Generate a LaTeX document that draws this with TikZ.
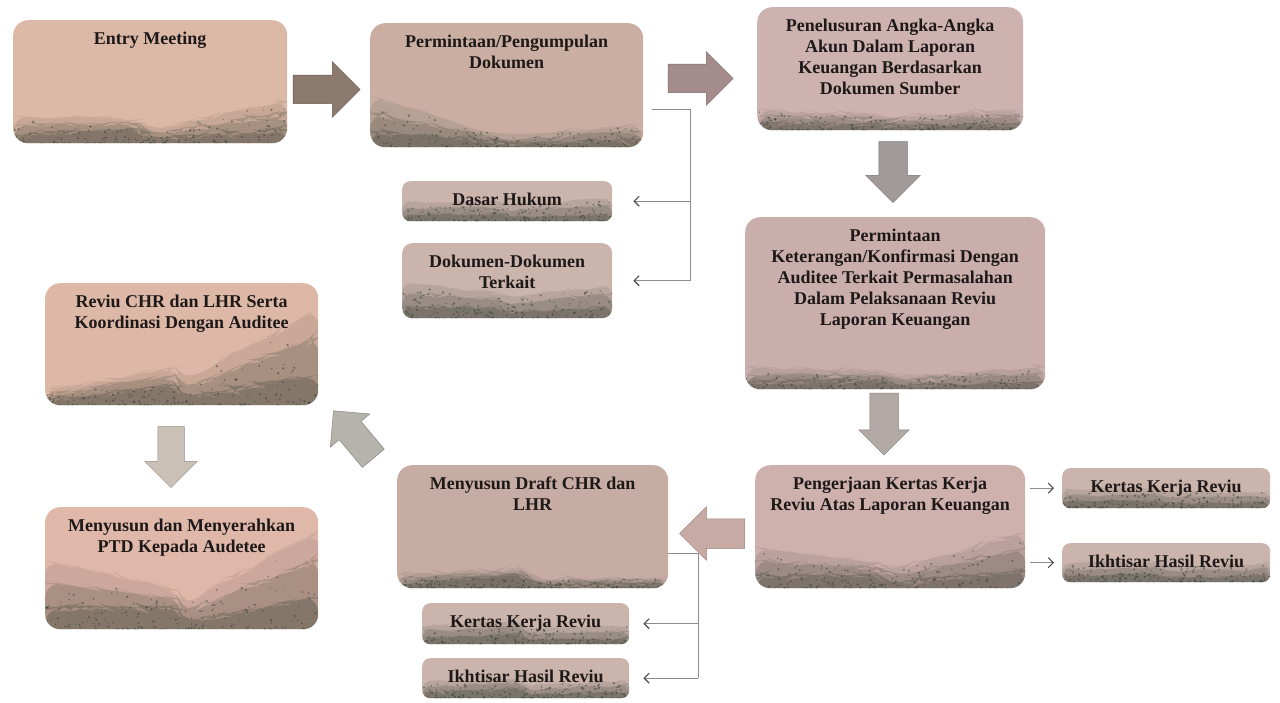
\documentclass[tikz,border=0pt]{standalone}
\usepackage{fontspec}
\setmainfont{Liberation Serif}
\usetikzlibrary{shapes.arrows,arrows.meta,decorations.pathmorphing,calc}
\definecolor{txt}{RGB}{30,25,25}
\definecolor{bandc}{RGB}{52,60,50}
\definecolor{cEntry}{RGB}{220,184,166}
\definecolor{cPerm}{RGB}{202,174,162}
\definecolor{cPen}{RGB}{206,178,176}
\definecolor{cKet}{RGB}{202,174,172}
\definecolor{cPeng}{RGB}{206,176,173}
\definecolor{cDraft}{RGB}{198,172,162}
\definecolor{cRev}{RGB}{222,184,167}
\definecolor{cPtd}{RGB}{224,184,170}
\definecolor{cSmall}{RGB}{202,180,172}
\definecolor{aA}{RGB}{140,122,110}
\definecolor{aB}{RGB}{165,140,140}
\definecolor{aC}{RGB}{160,155,152}
\definecolor{aD}{RGB}{178,168,165}
\definecolor{aE}{RGB}{200,170,165}
\definecolor{aF}{RGB}{182,178,172}
\definecolor{aG}{RGB}{202,192,182}
\pgfmathsetseed{11}
% #1 name, #2 x1, #3 y1, #4 x2, #5 y2, #6 fill, #7 band heights, #8 corner radius, #9 text
\newcommand\pbox[9]{%
  \node[procbox, rounded corners=#8, fill=#6, band=#7] (#1) at (#2,#3)
    {\parbox[t][\dimexpr#5pt-#3pt\relax][t]{\dimexpr#4pt-#2pt\relax}{\centering\rule{0pt}{24pt}#9}};}
\begin{document}
\begin{tikzpicture}[x=1pt,y=-1pt,
  procbox/.style={anchor=north west, inner sep=0pt, text=txt,
    font=\fontsize{18}{21}\selectfont\bfseries},
  band/.style n args={3}{path picture={
    \fill[bandc, fill opacity=.12]
      ([yshift=-2pt]path picture bounding box.south west)
      -- ([yshift={1.5*#1}]path picture bounding box.south west)
      decorate[decoration={random steps,segment length=9pt,amplitude=2.5pt}]
        {-- ([yshift={1.5*#2}]path picture bounding box.south)
         -- ([yshift={1.4*#3}]path picture bounding box.south east)}
      -- ([yshift=-2pt]path picture bounding box.south east) -- cycle;
    \fill[bandc, fill opacity=.22]
      ([yshift=-2pt]path picture bounding box.south west)
      -- ([yshift=#1]path picture bounding box.south west)
      decorate[decoration={random steps,segment length=7pt,amplitude=2pt}]
        {-- ([yshift=#2]path picture bounding box.south)
         -- ([yshift=#3]path picture bounding box.south east)}
      -- ([yshift=-2pt]path picture bounding box.south east) -- cycle;
    \fill[bandc, fill opacity=.3]
      ([yshift=-2pt]path picture bounding box.south west)
      -- ([yshift={.45*#1}]path picture bounding box.south west)
      decorate[decoration={random steps,segment length=5pt,amplitude=1.5pt}]
        {-- ([yshift={.4*#2}]path picture bounding box.south)
         -- ([yshift={.45*#3}]path picture bounding box.south east)}
      -- ([yshift=-2pt]path picture bounding box.south east) -- cycle;
    \path (path picture bounding box.south west) coordinate (ppsw)
          (path picture bounding box.south east) coordinate (ppse);
    \foreach \k in {1,...,170}{
      \pgfmathsetmacro\rx{rnd}
      \pgfmathsetmacro\ry{rnd^2}
      \pgfmathsetmacro\hh{\rx<0.5 ? (#1+(#2-#1)*2*\rx) : (#2+(#3-#2)*(2*\rx-1))}
      \pgfmathsetmacro\rr{0.5+0.8*rnd}
      \fill[bandc, fill opacity=.55] ($(ppsw)!\rx!(ppse)$) ++(0pt,{\ry*\hh*1.35pt}) circle (\rr pt);
    }
  }},
  barrow/.style={single arrow, inner xsep=0pt, fill=#1, draw=#1!75!black,
    line width=.5pt, single arrow tip angle=90},
  conn/.style={draw=black!45, line width=.7pt},
  tipc/.style={-{Straight Barb[length=5pt,width=10pt,line width=1.1pt,color=black!70]}},
]
\fill[white] (0,0) rectangle (1280,703);
\useasboundingbox (0,0) rectangle (1280,703);

% process boxes
\pbox{entry}{13}{20}{287}{143}{cEntry}{{18pt}{9pt}{30pt}}{15pt}{Entry Meeting}
\pbox{perm}{370}{23}{643}{147}{cPerm}{{34pt}{7pt}{16pt}}{15pt}{Permintaan/Pengumpulan\\Dokumen}
\pbox{pen}{757}{7}{1023}{130}{cPen}{{14pt}{9pt}{14pt}}{15pt}{Penelusuran Angka-Angka\\Akun Dalam Laporan\\Keuangan Berdasarkan\\Dokumen Sumber}
\pbox{ket}{745}{217}{1045}{389}{cKet}{{14pt}{8pt}{16pt}}{15pt}{Permintaan\\Keterangan/Konfirmasi Dengan\\Auditee Terkait Permasalahan\\Dalam Pelaksanaan Reviu\\Laporan Keuangan}
\pbox{peng}{755}{465}{1025}{588}{cPeng}{{28pt}{11pt}{40pt}}{15pt}{Pengerjaan Kertas Kerja\\Reviu Atas Laporan Keuangan}
\pbox{draft}{397}{465}{668}{588}{cDraft}{{9pt}{6pt}{8pt}}{15pt}{Menyusun Draft CHR dan\\LHR}
\pbox{rev}{45}{283}{318}{405}{cRev}{{10pt}{16pt}{68pt}}{15pt}{Reviu CHR dan LHR Serta\\Koordinasi Dengan Auditee}
\pbox{ptd}{45}{507}{318}{629}{cPtd}{{46pt}{16pt}{70pt}}{15pt}{Menyusun dan Menyerahkan\\PTD Kepada Audetee}

% small boxes
\pbox{dasar}{402}{181}{612}{221}{cSmall}{{13pt}{11pt}{15pt}}{8pt}{Dasar Hukum}
\pbox{dok}{402}{243}{612}{318}{cSmall}{{24pt}{14pt}{24pt}}{10pt}{Dokumen-Dokumen\\Terkait}
\pbox{kkr1}{1062}{468}{1270}{508}{cSmall}{{13pt}{11pt}{12pt}}{8pt}{Kertas Kerja Reviu}
\pbox{ikh1}{1062}{543}{1270}{582}{cSmall}{{13pt}{11pt}{13pt}}{8pt}{Ikhtisar Hasil Reviu}
\pbox{kkr2}{422}{603}{629}{644}{cSmall}{{13pt}{11pt}{13pt}}{8pt}{Kertas Kerja Reviu}
\pbox{ikh2}{422}{658}{629}{698}{cSmall}{{11pt}{9pt}{13pt}}{8pt}{Ikhtisar Hasil Reviu}

% block arrows
\node[barrow=aA, minimum height=67pt, inner ysep=14pt, single arrow head extend=13.5pt] (a1) at (319.5,89.5) {};
\node[barrow=aB, minimum height=65pt, inner ysep=14pt, single arrow head extend=12.5pt] (a2) at (693.5,78.5) {};
\node[barrow=aC, rotate=-90, minimum height=61pt, inner ysep=14pt, single arrow head extend=13pt] (a3) at (893,165) {};
\node[barrow=aD, rotate=-90, minimum height=62pt, inner ysep=14pt, single arrow head extend=11pt] (a4) at (884,417) {};
\node[barrow=aE, rotate=180, minimum height=65pt, inner ysep=14.5pt, single arrow head extend=12pt] (a5) at (719.5,533.5) {};
\node[barrow=aF, rotate=130, minimum height=62pt, inner ysep=14pt, single arrow head extend=11.5pt] (a6) at (358,440) {};
\node[barrow=aG, rotate=-90, minimum height=61pt, inner ysep=13pt, single arrow head extend=13pt] (a7) at (171,450.5) {};

% thin connectors
\coordinate (pj) at (690,109);
\draw[conn, shorten <=9pt] (perm.east |- pj) -- (pj) -- (pj |- dok.east);
\draw[conn, tipc, shorten >=21pt] (pj |- dasar.east) -- (dasar.east);
\draw[conn, tipc, shorten >=21pt] (pj |- dok.east) -- (dok.east);

\coordinate (dj) at (698,553);
\draw[conn] (draft.east |- dj) -- (dj) -- (dj |- ikh2.east);
\draw[conn, tipc, shorten >=14pt] (dj |- kkr2.east) -- (kkr2.east);
\draw[conn, tipc, shorten >=14pt] (dj |- ikh2.east) -- (ikh2.east);

\draw[conn, tipc, shorten <=5pt, shorten >=8pt] (peng.east |- kkr1.west) -- (kkr1.west);
\draw[conn, tipc, shorten <=5pt, shorten >=8pt] (peng.east |- ikh1.west) -- (ikh1.west);
\end{tikzpicture}
\end{document}
